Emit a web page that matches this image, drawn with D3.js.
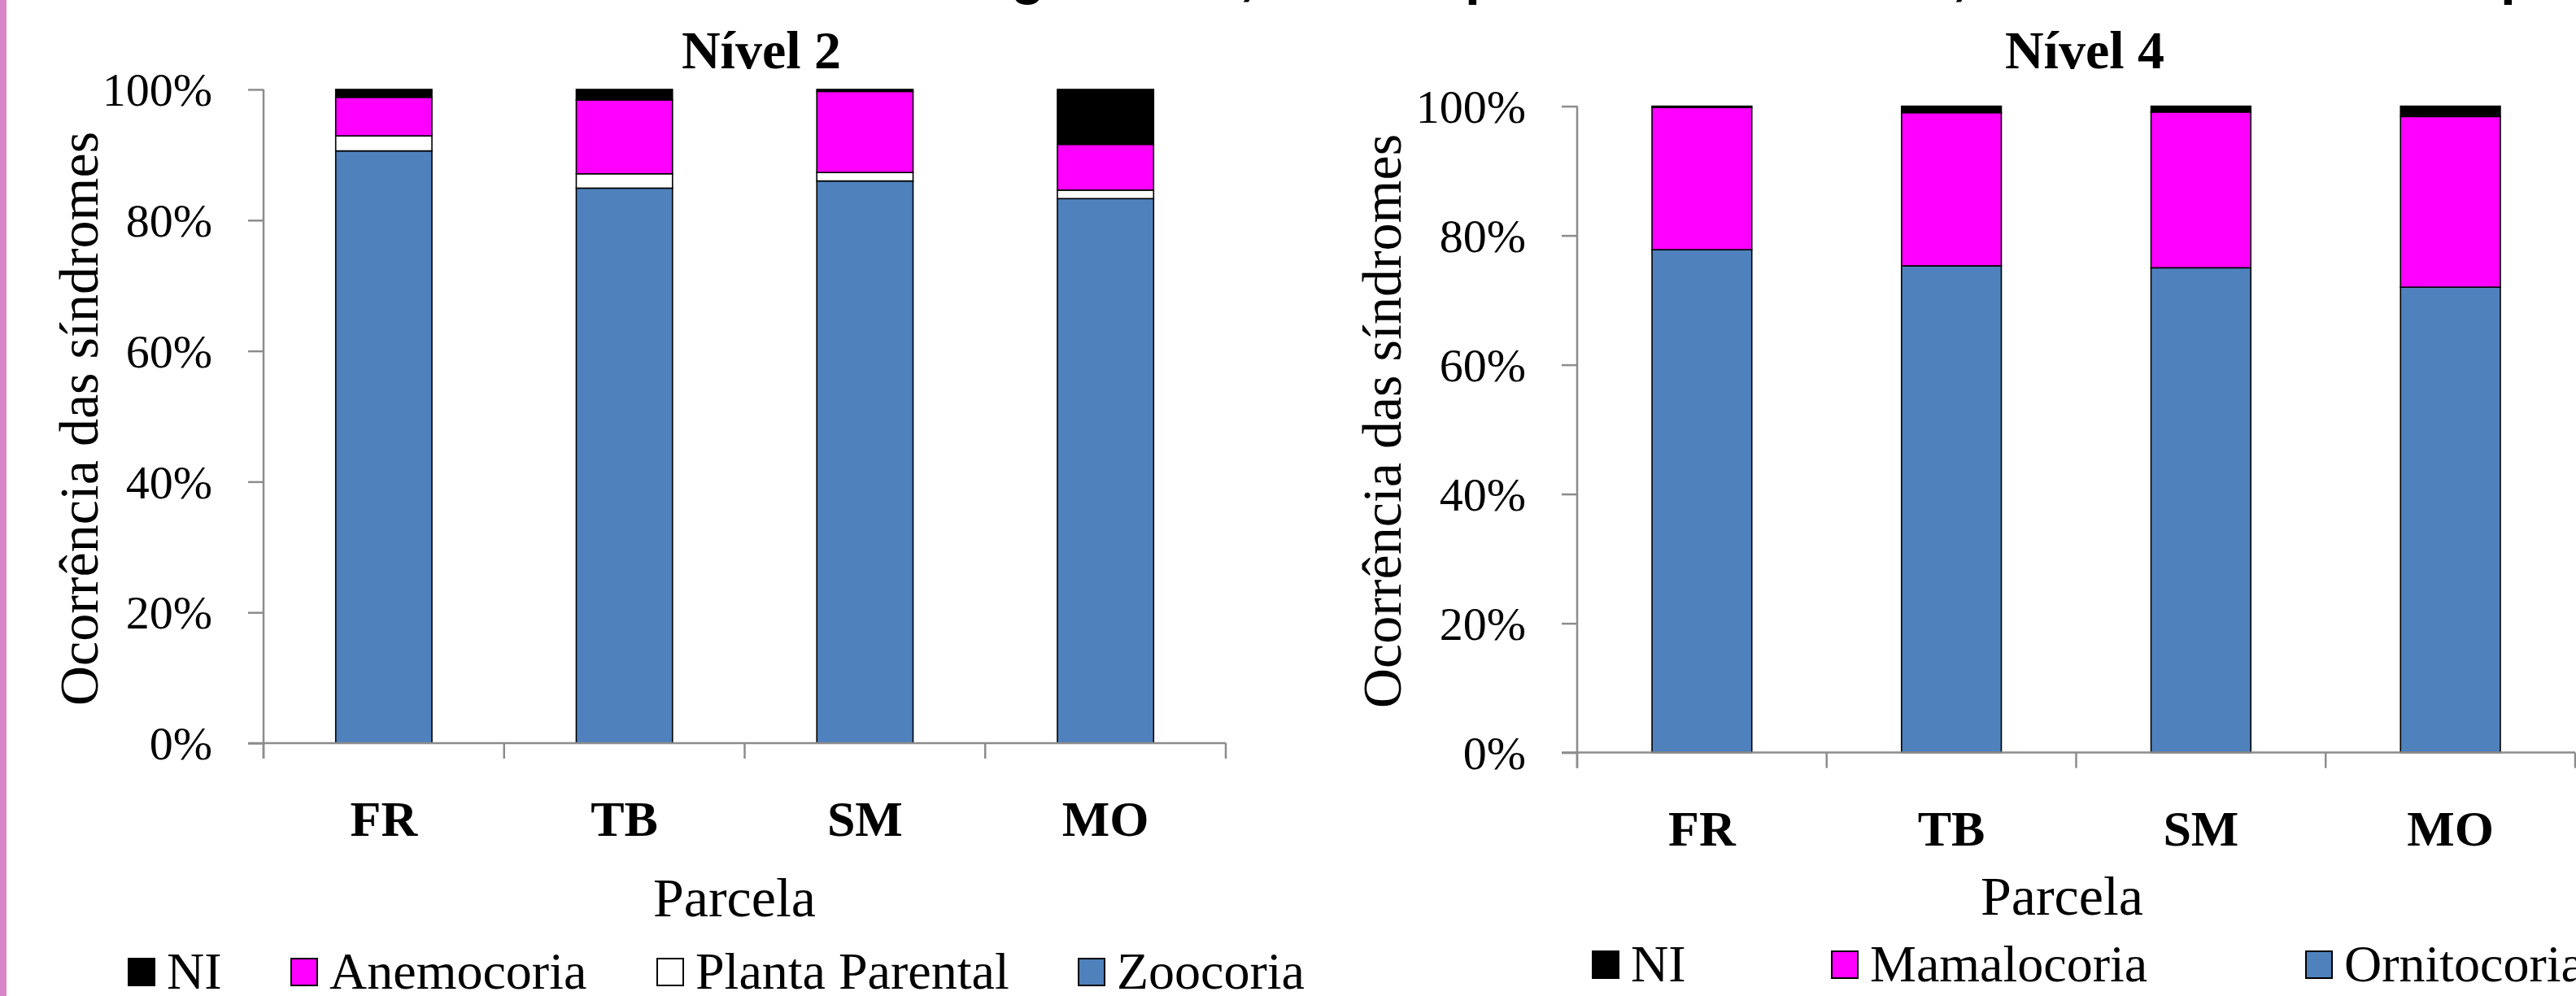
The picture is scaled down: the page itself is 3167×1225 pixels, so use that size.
<!DOCTYPE html>
<html>
<head>
<meta charset="utf-8">
<script src="https://cdn.jsdelivr.net/npm/d3@7"></script>
<style>
  html, body { margin: 0; padding: 0; background: #fff; overflow: hidden; }
  svg { display: block; }
  text { font-family: "Liberation Serif", "Times New Roman", serif; fill: #000; }
</style>
</head>
<body>
<svg id="chart" width="3167" height="1225"></svg>
<script>
// ---------- DATA ----------
const categories = ["FR", "TB", "SM", "MO"];
const yTickValues = [0, 20, 40, 60, 80, 100];

// Nível 2 (percent of each parcela)
const n2Zoocoria       = [90.6, 84.9, 86.0, 83.3];
const n2PlantaParental = [2.3, 2.2, 1.3, 1.3];
const n2Anemocoria     = [5.9, 11.3, 12.4, 7.0];
const n2NI             = [1.2, 1.6, 0.3, 8.4];

// Nível 4
const n4Ornitocoria  = [77.8, 75.3, 75.0, 72.0];
const n4Mamalocoria  = [22.0, 23.7, 24.1, 26.4];
const n4NI           = [0.2, 1.0, 0.9, 1.6];

const n2StackOrder = ["Zoocoria", "Planta Parental", "Anemocoria", "NI"];
const n2LegendOrder = ["NI", "Anemocoria", "Planta Parental", "Zoocoria"];
const n4StackOrder = ["Ornitocoria", "Mamalocoria", "NI"];
const n4LegendOrder = ["NI", "Mamalocoria", "Ornitocoria"];

// fragments of the cut-off slide title above the charts
const titleFragments = ["g", ",", "p", ",", "p"];

// ---------- STYLE ----------
const colors = {
  "Zoocoria": "#4f81bd", "Ornitocoria": "#4f81bd",
  "Anemocoria": "#ff00ff", "Mamalocoria": "#ff00ff",
  "Planta Parental": "#ffffff", "NI": "#000000"
};

const svg = d3.select("#chart");

// left decorative strip
svg.append("rect").attr("x", 0).attr("y", 0).attr("width", 8).attr("height", 1225).attr("fill", "#d886c8");

// cut-off title fragments
const fragX = [1243, 1524, 1801, 2400, 3074];
svg.selectAll("text.frag").data(titleFragments).join("text")
  .attr("class", "frag")
  .attr("x", (d, i) => fragX[i]).attr("y", -8)
  .style("font-family", "'Liberation Sans', Arial, sans-serif")
  .style("font-weight", "bold").style("font-size", "68px")
  .text(d => d);

function rowsFrom(seriesMap) {
  return categories.map((c, i) => {
    const r = { cat: c };
    for (const k in seriesMap) r[k] = seriesMap[k][i];
    return r;
  });
}

function drawPanel(p) {
  const g = svg.append("g");
  const x = d3.scaleBand().domain(categories).range([p.x0, p.x1]).paddingInner(0.6).paddingOuter(0.3);
  const y = d3.scaleLinear().domain([0, 100]).range([p.y0, p.y1]);

  // bars
  const stack = d3.stack().keys(p.stackOrder);
  const layers = stack(p.rows);
  g.selectAll("g.layer").data(layers).join("g")
    .attr("class", "layer")
    .attr("fill", d => colors[d.key])
    .selectAll("rect").data(d => d).join("rect")
      .attr("x", d => x(d.data.cat))
      .attr("width", x.bandwidth())
      .attr("y", d => y(d[1]))
      .attr("height", d => Math.max(0, y(d[0]) - y(d[1])))
      .attr("stroke", "#000").attr("stroke-width", 1.6);

  // y axis
  const yAxis = d3.axisLeft(y).tickValues(yTickValues).tickSize(19).tickPadding(0).tickFormat(d => d + "%");
  const ya = g.append("g").attr("transform", `translate(${p.x0},0)`).call(yAxis);
  ya.select(".domain").attr("stroke", "#8c8c8c").attr("stroke-width", 2.5).attr("d", `M-0,${p.y1}V${p.y0 + 19}`);
  ya.selectAll(".tick line").attr("stroke", "#8c8c8c").attr("stroke-width", 2.5);
  ya.selectAll(".tick text").attr("x", p.tickLabelX - p.x0).attr("dy", "0.34em")
    .style("font-size", "58px").style("font-family", "'Liberation Serif', serif");

  // x axis (ticks at band boundaries)
  const xa = g.append("g").attr("transform", `translate(0,${p.y0})`);
  xa.append("line").attr("x1", p.x0 - 19).attr("x2", p.x1).attr("y1", 0).attr("y2", 0)
    .attr("stroke", "#8c8c8c").attr("stroke-width", 2.5);
  const step = x.step();
  const bounds = d3.range(categories.length + 1).map(i => p.x0 + i * step);
  xa.selectAll("line.xt").data(bounds).join("line").attr("class", "xt")
    .attr("x1", d => d).attr("x2", d => d).attr("y1", 0).attr("y2", 19)
    .attr("stroke", "#8c8c8c").attr("stroke-width", 2.5);
  xa.selectAll("text.cat").data(categories).join("text").attr("class", "cat")
    .attr("x", d => x(d) + x.bandwidth() / 2).attr("y", p.catY - p.y0)
    .attr("text-anchor", "middle").style("font-size", "62px").style("font-weight", "bold")
    .text(d => d);

  // axis titles
  g.append("text").attr("x", p.parcelaX).attr("y", p.parcelaY).attr("text-anchor", "middle")
    .style("font-size", "68px").text("Parcela");
  g.append("text").attr("transform", `translate(${p.yTitleX},${p.yTitleY}) rotate(-90)`)
    .attr("text-anchor", "middle").style("font-size", "68px").text("Ocorrência das síndromes");

  // chart title
  g.append("text").attr("x", p.titleX).attr("y", 84).attr("text-anchor", "middle")
    .style("font-size", "66px").style("font-weight", "bold").text(p.title);

  // legend
  const lg = g.selectAll("g.leg").data(p.legendOrder).join("g").attr("class", "leg")
    .attr("transform", (d, i) => `translate(${p.legendX[i]},${p.legendY})`);
  lg.append("rect").attr("x", 0).attr("y", 0).attr("width", 32).attr("height", 33)
    .attr("fill", d => colors[d]).attr("stroke", "#000").attr("stroke-width", 2);
  lg.append("text").attr("x", 47).attr("y", 37).style("font-size", "64px").text(d => d);
}

drawPanel({
  title: "Nível 2", titleX: 936,
  rows: rowsFrom({ "Zoocoria": n2Zoocoria, "Planta Parental": n2PlantaParental, "Anemocoria": n2Anemocoria, "NI": n2NI }),
  stackOrder: n2StackOrder, legendOrder: n2LegendOrder,
  x0: 324, x1: 1507, y0: 914, y1: 110,
  tickLabelX: 261, catY: 1028,
  parcelaX: 903, parcelaY: 1127,
  yTitleX: 120, yTitleY: 515,
  legendX: [158, 358, 808, 1326], legendY: 1179
});

drawPanel({
  title: "Nível 4", titleX: 2563,
  rows: rowsFrom({ "Ornitocoria": n4Ornitocoria, "Mamalocoria": n4Mamalocoria, "NI": n4NI }),
  stackOrder: n4StackOrder, legendOrder: n4LegendOrder,
  x0: 1939, x1: 3166, y0: 925.6, y1: 130.6,
  tickLabelX: 1876, catY: 1040,
  parcelaX: 2535, parcelaY: 1125,
  yTitleX: 1722, yTitleY: 518,
  legendX: [1958, 2252, 2835], legendY: 1170
});
</script>
</body>
</html>
